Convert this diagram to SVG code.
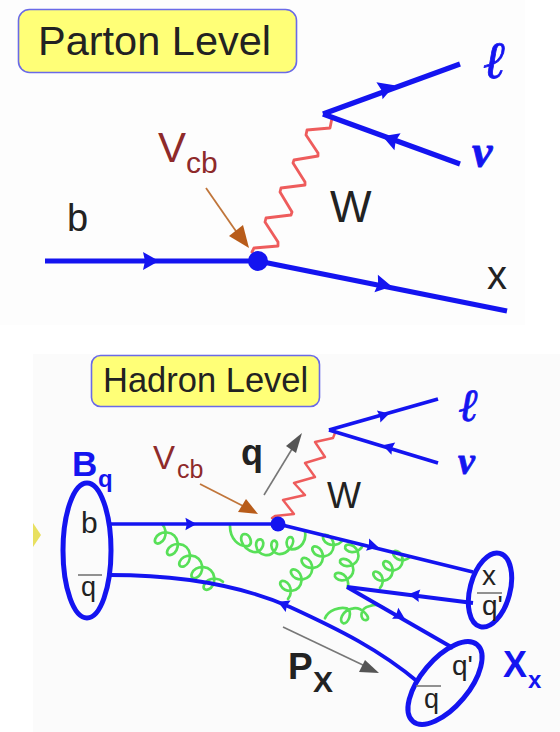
<svg xmlns="http://www.w3.org/2000/svg" xmlns:xlink="http://www.w3.org/1999/xlink" width="560" height="732" viewBox="0 0 560 732">
<style>
text{font-family:"Liberation Sans",Arial,sans-serif;fill:#222}
.box{fill:#ffff77;stroke:#6a6ae8;stroke-width:1.6}
.fl{fill:none;stroke:#1414f0;stroke-linecap:butt;stroke-linejoin:round}
.w{fill:none;stroke:#ee5c5c;stroke-linejoin:round;stroke-linecap:round}
.g{fill:none;stroke:#58e058;stroke-width:2.7;stroke-linecap:round;vector-effect:non-scaling-stroke}
.oval{fill:none;stroke:#1414f0;stroke-width:5}
.ah{fill:#1414f0}
.bar{stroke:#777;stroke-width:1.6}
.br{stroke:#c0753a;stroke-width:1.8}
.gr{stroke:#777;stroke-width:1.6}
text.red{fill:#8e2a2a}
text.blue{fill:#1414f0;font-weight:bold}
text.sym{font-family:"Liberation Serif","DejaVu Serif",serif;font-style:italic;font-weight:bold;fill:#1414f0;stroke:#1414f0;stroke-width:.8}
</style>
<defs>
<path id="ah" d="M-8,-9 L8,0 L-8,9 L-6,0Z"/>
<path id="c3" class="g" d="M0,0c3.19,0 6.17,-2.14 7,-4.5c.83,-2.36 -.47,-4.5 -2,-4.5c-1.53,0 -2.83,2.14 -2,4.5c.83,2.36 3.81,4.5 7,4.5c3.19,0 6.17,-2.14 7,-4.5c.83,-2.36 -.47,-4.5 -2,-4.5c-1.53,0 -2.83,2.14 -2,4.5c.83,2.36 3.81,4.5 7,4.5c3.19,0 6.17,-2.14 7,-4.5c.83,-2.36 -.47,-4.5 -2,-4.5c-1.53,0 -2.83,2.14 -2,4.5c.83,2.36 3.81,4.5 7,4.5"/>
<path id="c5" class="g" d="M0,0c3.19,0 6.17,-2.14 7,-4.5c.83,-2.36 -.47,-4.5 -2,-4.5c-1.53,0 -2.83,2.14 -2,4.5c.83,2.36 3.81,4.5 7,4.5c3.19,0 6.17,-2.14 7,-4.5c.83,-2.36 -.47,-4.5 -2,-4.5c-1.53,0 -2.83,2.14 -2,4.5c.83,2.36 3.81,4.5 7,4.5c3.19,0 6.17,-2.14 7,-4.5c.83,-2.36 -.47,-4.5 -2,-4.5c-1.53,0 -2.83,2.14 -2,4.5c.83,2.36 3.81,4.5 7,4.5c3.19,0 6.17,-2.14 7,-4.5c.83,-2.36 -.47,-4.5 -2,-4.5c-1.53,0 -2.83,2.14 -2,4.5c.83,2.36 3.81,4.5 7,4.5c3.19,0 6.17,-2.14 7,-4.5c.83,-2.36 -.47,-4.5 -2,-4.5c-1.53,0 -2.83,2.14 -2,4.5c.83,2.36 3.81,4.5 7,4.5"/>
</defs>
<rect width="560" height="732" fill="#fff"/>
<rect x="0" y="0" width="525" height="325" fill="#fdfdfd"/>
<rect x="33" y="354" width="527" height="378" fill="#fbfbfb"/>
<polygon points="33,523 41,535 33,547" fill="#e8e060"/>

<g id="connectors">
  <g id="parton-lines">
    <polyline class="w" stroke-width="2.8" points="252,252 254,248 278,246 278,242 265,222 266,218 291,215 292,212 280,192 281,188 305,185 305,182 293,163 294,160 318,156 318,153 306,135 307,130 330,128 332,118"/>
    <line class="fl" stroke-width="5.2" x1="45" y1="261" x2="258" y2="261"/>
    <line class="fl" stroke-width="5.2" x1="258" y1="261" x2="507" y2="311"/>
    <line class="fl" stroke-width="5.2" x1="323" y1="114" x2="460" y2="64"/>
    <line class="fl" stroke-width="5.2" x1="323" y1="114" x2="460" y2="164"/>
    <use xlink:href="#ah" href="#ah" class="ah" transform="translate(151,261)"/>
    <use xlink:href="#ah" href="#ah" class="ah" transform="translate(384,285) rotate(11)"/>
    <use xlink:href="#ah" href="#ah" class="ah" transform="translate(387,88) rotate(-20)"/>
    <use xlink:href="#ah" href="#ah" class="ah" transform="translate(390,139) rotate(200)"/>
    <line class="br" x1="206" y1="188" x2="240" y2="237"/>
    <polygon points="249,248 229,236 243,225" fill="#b85c1a"/>
  </g>
  <g id="hadron-lines">
    <polyline class="w" stroke-width="2.4" points="272,518 275,516 294,514 283,500 305,495 294,483 315,477 305,463 325,457 315,442 333,438 335,433"/>
    <g transform="translate(162,524) rotate(43.5) scale(1.68,-2)"><use xlink:href="#c5" href="#c5"/></g>
    <path class="g" transform="translate(150,510) scale(0.3333)" d="M240,48C240,85 265,112 295,108C310,100 300,72 283,72C265,74 272,115 310,126C335,130 350,95 332,88C312,85 312,128 345,135C372,140 392,100 375,92C360,88 358,125 385,132C415,135 440,95 425,82C408,75 402,115 425,118C455,118 470,90 465,65"/>
    <g transform="translate(288,599) rotate(-47) scale(1.57,1.9)"><use xlink:href="#c5" href="#c5"/></g>
    <g transform="translate(363,545) rotate(110) scale(1.5,-1.8)"><use xlink:href="#c3" href="#c3"/></g>
    <g transform="translate(380,588) rotate(-46) scale(1.43,1.7)"><use xlink:href="#c3" href="#c3"/></g>
    <path class="g" transform="translate(150,510) scale(0.3333)" d="M525,325C535,300 570,290 590,295C610,305 595,342 580,340C565,335 575,300 610,295C635,290 665,325 650,330C630,335 625,295 660,288C675,283 690,285 700,292"/>
    <line class="fl" stroke-width="3.4" x1="110" y1="524" x2="278" y2="524"/>
    <line class="fl" stroke-width="3.8" x1="278" y1="524" x2="473" y2="572"/>
    <path class="fl" stroke-width="3.8" d="M110,575C180,575 240,585 290,607C340,630 380,650 418,682"/>
    <line class="fl" stroke-width="3.8" x1="329" y1="430" x2="438" y2="399"/>
    <line class="fl" stroke-width="3.8" x1="329" y1="430" x2="438" y2="463"/>
    <line class="fl" stroke-width="3.8" x1="347" y1="587" x2="473" y2="603"/>
    <line class="fl" stroke-width="3.8" x1="347" y1="587" x2="453" y2="648"/>
    <use xlink:href="#ah" href="#ah" class="ah" transform="translate(191,524) scale(.7)"/>
    <use xlink:href="#ah" href="#ah" class="ah" transform="translate(373,546) rotate(14) scale(.7)"/>
    <use xlink:href="#ah" href="#ah" class="ah" transform="translate(283,604) rotate(203) scale(.7)"/>
    <use xlink:href="#ah" href="#ah" class="ah" transform="translate(384,415) rotate(-16) scale(.7)"/>
    <use xlink:href="#ah" href="#ah" class="ah" transform="translate(388,447) rotate(197) scale(.7)"/>
    <use xlink:href="#ah" href="#ah" class="ah" transform="translate(414,595) rotate(187) scale(.7)"/>
    <use xlink:href="#ah" href="#ah" class="ah" transform="translate(400,616) rotate(30) scale(.7)"/>
    <line class="br" x1="200" y1="484" x2="245" y2="507"/>
    <polygon points="258,514 238,512 246,499" fill="#b85c1a"/>
    <line class="gr" x1="264" y1="495" x2="292" y2="449"/>
    <polygon points="302,433 296,453 286,446" fill="#555"/>
    <line class="gr" x1="283" y1="627" x2="365" y2="666"/>
    <polygon points="379,673 359,672 365,660" fill="#555"/>
  </g>
</g>

<g id="parton-title"><rect class="box" x="18.500" y="9.500" width="278" height="63" rx="11"/><text x="38" y="54.500" font-size="41.500">Parton Level</text></g>
<g id="parton-vertex"><circle cx="258" cy="261" r="10" fill="#1414f0"/></g>
<g id="parton-labels">
  <text x="158" y="162" font-size="42" class="red">V</text>
  <text x="186" y="172.500" font-size="30" class="red">cb</text>
  <text x="67" y="231" font-size="38">b</text>
  <text x="330" y="222" font-size="44">W</text>
  <text x="487" y="289" font-size="40">x</text>
  <text x="484" y="78" font-size="52" class="sym">ℓ</text>
  <text x="472" y="167" font-size="46" class="sym">ν</text>
</g>

<g id="hadron-title"><rect class="box" x="91.500" y="355.500" width="228" height="51" rx="9"/><text x="103" y="392" font-size="34.500">Hadron Level</text></g>
<g id="hadron-vertex"><circle cx="278" cy="524" r="7.500" fill="#1414f0"/></g>
<g id="b-meson">
  <ellipse class="oval" cx="87" cy="550.500" rx="24" ry="67.500"/>
  <text x="81" y="533" font-size="30">b</text>
  <line class="bar" x1="78" y1="575" x2="102" y2="575"/>
  <text x="81" y="596" font-size="27">q</text>
  <text x="72" y="476" font-size="35" class="blue">B</text>
  <text x="98" y="487" font-size="24" class="blue">q</text>
</g>
<g id="x-upper">
  <ellipse class="oval" cx="490" cy="590" rx="20" ry="38" transform="rotate(15 490 590)"/>
  <text x="482" y="585" font-size="28">x</text>
  <line class="bar" x1="477" y1="593" x2="502" y2="593"/>
  <text x="482" y="615" font-size="28">q'</text>
</g>
<g id="x-lower">
  <ellipse class="oval" cx="445" cy="683" rx="24" ry="50" transform="rotate(40 445 683)"/>
  <text x="452" y="675" font-size="28">q'</text>
  <line class="bar" x1="416" y1="686" x2="441" y2="686"/>
  <text x="424" y="708" font-size="27">q</text>
</g>
<g id="hadron-labels">
  <text x="153" y="469" font-size="33" class="red">V</text>
  <text x="177" y="478" font-size="25" class="red">cb</text>
  <text x="241" y="465" font-size="36" font-weight="bold">q</text>
  <text x="327" y="508" font-size="36">W</text>
  <text x="288" y="679" font-size="37" font-weight="bold">P</text>
  <text x="313" y="692" font-size="30" font-weight="bold">X</text>
  <text x="503" y="677" font-size="36" class="blue">X</text>
  <text x="528" y="688" font-size="24" class="blue">x</text>
  <text x="459" y="421" font-size="46" class="sym">ℓ</text>
  <text x="458" y="474" font-size="38" class="sym">ν</text>
</g>
</svg>
